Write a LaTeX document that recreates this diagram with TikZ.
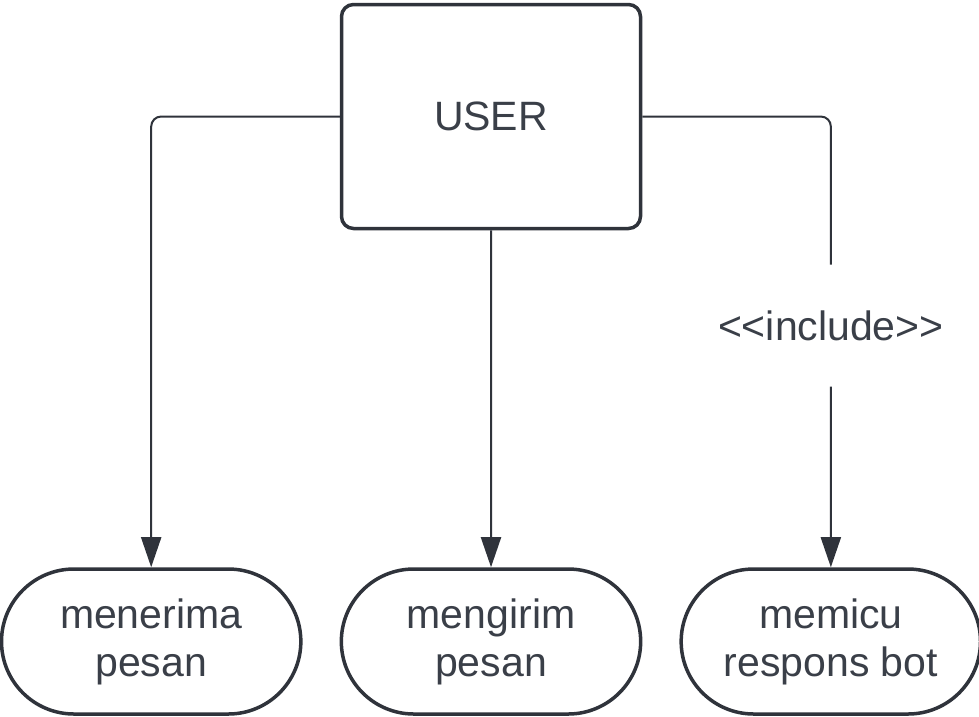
\documentclass[tikz,border=0pt]{standalone}
\usepackage{fontspec}
\setmainfont{Liberation Sans}
\usetikzlibrary{arrows.meta,positioning,shapes.misc}
\definecolor{ink}{HTML}{2F333B}
\definecolor{textink}{HTML}{3A3F48}
\begin{document}
\begin{tikzpicture}[x=1pt,y=1pt,>={Triangle[width=20pt,length=30pt]},
                    actor box/.style={rectangle,draw=ink,line width=3.5pt,rounded corners=12pt,
                                      minimum width=299pt,minimum height=224pt,
                                      text=textink,font=\fontsize{41}{48}\selectfont},
                    use case/.style={rounded rectangle,draw=ink,line width=3.5pt,
                                     minimum width=306pt,minimum height=145pt,align=center,
                                     text=textink,font=\fontsize{41}{48}\selectfont},
                    link/.style={->,draw=ink,line width=2pt},
                    stereo/.style={fill=white,text=textink,font=\fontsize{41}{48}\selectfont,
                                   text height=30pt,text depth=0pt,inner xsep=4pt,inner ysep=46pt}]
    \useasboundingbox (0,0) rectangle (979,-716);
    \node[actor box] (user) at (491,-116.5) {USER};
    \node[use case] (kirim) [below=337pt of user] {mengirim\\pesan};
    \node[use case] (terima) [left=37pt of kirim] {menerima\\pesan};
    \node[use case] (picu) [right=37pt of kirim] {memicu\\respons bot};
    \draw[link,rounded corners=10pt] (user.west) -| (terima);
    \draw[link] (user) -- (kirim);
    \draw[link,rounded corners=10pt] (user.east) -| node[stereo,pos=0.732] {{<}{<}include{>}{>}} (picu);
\end{tikzpicture}
\end{document}
